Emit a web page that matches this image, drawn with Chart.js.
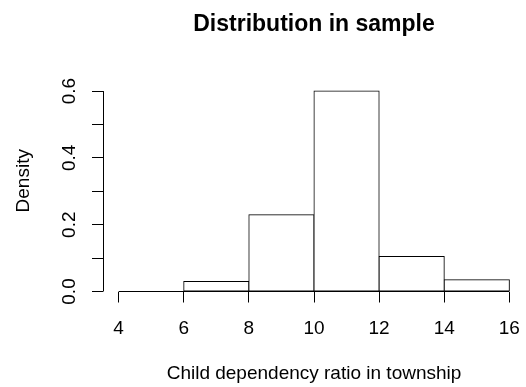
<!DOCTYPE html>
<html>
<head>
<meta charset="utf-8">
<script src="https://cdn.jsdelivr.net/npm/chart.js@4"></script>
<style>
  html, body { margin: 0; padding: 0; background: #fff; }
  #wrap { width: 526px; height: 387px; }
</style>
</head>
<body>
<div id="wrap"><canvas id="hist" width="526" height="387"></canvas></div>
<script>
// histogram bins (width 2) and their density
const binMids = [5, 7, 9, 11, 13, 15];
const densities = [0, 0.03, 0.23, 0.6, 0.105, 0.035];
const xTicks = [4, 6, 8, 10, 12, 14, 16];
const yTicks = [0, 0.1, 0.2, 0.3, 0.4, 0.5, 0.6];
const yLabels = ['0.0', '', '0.2', '', '0.4', '', '0.6'];

const FONT = '"Liberation Sans", Arial, sans-serif';

// R-style axes: lines only span first..last tick, y labels turned 90 degrees
const rAxes = {
  id: 'rAxes',
  afterDraw(chart) {
    const ctx = chart.ctx;
    const x = chart.scales.x, y = chart.scales.y;
    const ax = Math.round(chart.chartArea.left) + 0.5;
    const ay = Math.floor(chart.chartArea.bottom) + 0.5;
    ctx.save();
    ctx.strokeStyle = '#000';
    ctx.lineWidth = 1;
    ctx.beginPath();
    ctx.moveTo(ax, y.getPixelForValue(yTicks[0]));
    ctx.lineTo(ax, y.getPixelForValue(yTicks[yTicks.length - 1]));
    ctx.moveTo(x.getPixelForValue(xTicks[0]), ay);
    ctx.lineTo(x.getPixelForValue(xTicks[xTicks.length - 1]), ay);
    ctx.stroke();

    ctx.fillStyle = '#000';
    ctx.font = '19px ' + FONT;
    ctx.textAlign = 'center';
    ctx.textBaseline = 'middle';
    yTicks.forEach((v, i) => {
      if (!yLabels[i]) return;
      ctx.save();
      ctx.translate(70, y.getPixelForValue(v));
      ctx.rotate(-Math.PI / 2);
      ctx.fillText(yLabels[i], 0, 0);
      ctx.restore();
    });
    ctx.restore();
  }
};

new Chart(document.getElementById('hist'), {
  type: 'bar',
  data: {
    datasets: [{
      data: binMids.map((m, i) => ({ x: m, y: densities[i] })),
      backgroundColor: '#fff',
      borderColor: '#000',
      borderWidth: 1,
      borderSkipped: false,
      inflateAmount: 0.5,
      barPercentage: 1,
      categoryPercentage: 1
    }]
  },
  options: {
    responsive: false,
    animation: false,
    events: [],
    layout: { padding: { top: 0, left: 0, right: 1, bottom: 0 } },
    plugins: {
      legend: { display: false },
      tooltip: { enabled: false },
      title: {
        display: true,
        text: 'Distribution in sample',
        color: '#000',
        fullSize: false,
        font: { family: FONT, size: 23, weight: 'bold' },
        padding: { top: 10.4, bottom: 32 }
      }
    },
    scales: {
      x: {
        type: 'linear',
        min: 3.52,
        max: 16.48,
        offset: false,
        afterFit(scale) {
          scale.height = 95.5;
          scale.paddingLeft = 0;
          scale.paddingRight = 0;
        },
        afterBuildTicks(scale) { scale.ticks = xTicks.map(v => ({ value: v })); },
        border: { display: false },
        grid: { offset: false, drawOnChartArea: false, drawTicks: true, tickLength: 11, color: '#000' },
        ticks: {
          color: '#000',
          font: { family: FONT, size: 19 },
          padding: 14.5,
          maxRotation: 0,
          autoSkip: false,
          callback: v => String(v)
        },
        title: {
          display: true,
          text: 'Child dependency ratio in township',
          color: '#000',
          font: { family: FONT, size: 19 },
          padding: { top: 0, bottom: 2 }
        }
      },
      y: {
        min: 0,
        max: 0.663,
        afterFit(scale) {
          scale.width = 103;
          scale.paddingTop = 0;
          scale.paddingBottom = 0;
        },
        afterBuildTicks(scale) { scale.ticks = yTicks.map(v => ({ value: v })); },
        border: { display: false },
        grid: { drawOnChartArea: false, drawTicks: true, tickLength: 11, color: '#000' },
        ticks: { display: false },
        title: {
          display: true,
          text: 'Density',
          color: '#000',
          font: { family: FONT, size: 19 },
          padding: { top: 12.5, bottom: 0 }
        }
      }
    }
  },
  plugins: [rAxes]
});
</script>
</body>
</html>
